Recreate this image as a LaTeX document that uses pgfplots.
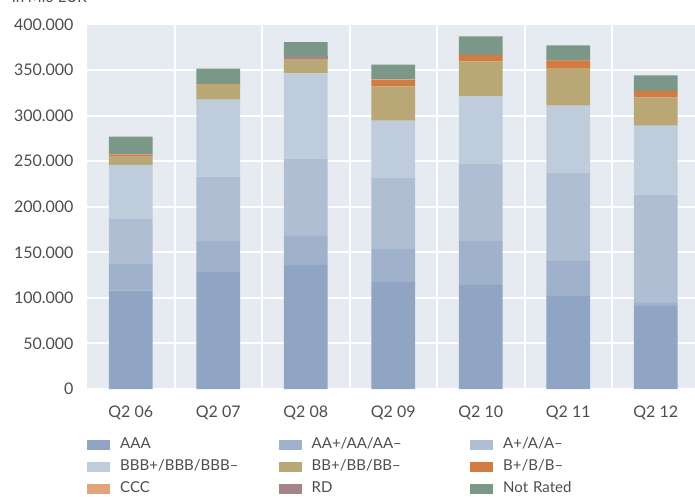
\documentclass[border=0pt]{standalone}
\usepackage{fontspec}
\setmainfont{Lato}
\usepackage{pgfplots}
\usepackage{pgfplotstable}
\pgfplotsset{compat=1.18}
\definecolor{cAAA}{HTML}{8FA5C3}
\definecolor{cAA}{HTML}{A0B1CB}
\definecolor{cA}{HTML}{B0BED4}
\definecolor{cBBB}{HTML}{BFCCDC}
\definecolor{cBB}{HTML}{B9A775}
\definecolor{cB}{HTML}{D47B3F}
\definecolor{cCCC}{HTML}{E3A47B}
\definecolor{cRD}{HTML}{A7838A}
\definecolor{cNR}{HTML}{7A9787}
\definecolor{bgcol}{HTML}{E6EBF2}
\definecolor{txtcol}{HTML}{4D4D4D}

\pgfplotstableread{
x AAA AA A BBB BB B CCC RD NR
0 108000 29400 49400 59200 9500 1500 300 0 19600
1 128600 34000 70400 84600 16400 800 0 0 16800
2 136300 31700 84700 93500 16100 0 0 2800 15400
3 117600 36200 78100 62600 37400 7300 500 0 16100
4 114300 48300 84700 73600 38400 7000 0 0 20500
5 102200 38500 96700 73600 40600 8800 0 0 16500
6 91200 3300 118700 75800 30800 6900 0 0 17300
}\data

\begin{document}
\begin{tikzpicture}[font=\fontsize{15}{18}\selectfont, text=txtcol]
\begin{axis}[
  scale only axis, width=612.5pt, height=364.6pt,
  xmin=-0.5, xmax=6.5, ymin=0, ymax=400000,
  ybar stacked, bar width=0.5,
  axis background/.style={fill=bgcol},
  axis line style={draw=none},
  xtick={0,...,6},
  xticklabels={Q2 06,Q2 07,Q2 08,Q2 09,Q2 10,Q2 11,Q2 12},
  minor xtick={0.5,1.5,...,5.5},
  xminorgrids=true, ymajorgrids=true, xmajorgrids=false,
  grid style={white, line width=2pt},
  minor grid style={white, line width=2pt},
  major tick length=0pt, minor tick length=0pt,
  ytick={0,50000,...,400000},
  scaled y ticks=false,
  /pgf/number format/.cd, fixed, 1000 sep={.}, assume math mode=true,
  /pgfplots/.cd,
  ticklabel style={font=\fontsize{16}{19}\selectfont},
  yticklabel style={xshift=-10pt},
  xticklabel style={yshift=-13pt},
  legend image code/.code={\fill[#1] (0pt,-5pt) rectangle (23pt,5pt);},
  legend columns=3,
  legend cell align=left,
  legend style={at={(0,0)}, anchor=north west, yshift=-44.3pt,
    draw=none, fill=none, inner sep=0pt,
    nodes={inner xsep=10pt, inner ysep=4pt, text width=148.5pt,
      text height=11pt, text depth=3pt, anchor=west}},
]
\addplot[fill=cAAA, draw=none] table[x=x,y=AAA] {\data};
\addplot[fill=cAA, draw=none] table[x=x,y=AA] {\data};
\addplot[fill=cA, draw=none] table[x=x,y=A] {\data};
\addplot[fill=cBBB, draw=none] table[x=x,y=BBB] {\data};
\addplot[fill=cBB, draw=none] table[x=x,y=BB] {\data};
\addplot[fill=cB, draw=none] table[x=x,y=B] {\data};
\addplot[fill=cCCC, draw=none] table[x=x,y=CCC] {\data};
\addplot[fill=cRD, draw=none] table[x=x,y=RD] {\data};
\addplot[fill=cNR, draw=none] table[x=x,y=NR] {\data};
\legend{AAA,AA+/AA/AA–,A+/A/A–,BBB+/BBB/BBB–,BB+/BB/BB–,B+/B/B–,CCC,RD,Not Rated}
\coordinate (bl) at (rel axis cs:0,0);
\coordinate (tr) at (rel axis cs:1,1);
\coordinate (tl) at (rel axis cs:0,1);
\end{axis}
\node[anchor=base west, inner sep=0pt] at ([xshift=-75pt,yshift=21.4pt]tl) {in Mio EUR};
\pgfresetboundingbox
\path ([xshift=-87pt,yshift=-108pt]bl) rectangle ([xshift=-4.5pt,yshift=24.4pt]tr);
\end{tikzpicture}
\end{document}
